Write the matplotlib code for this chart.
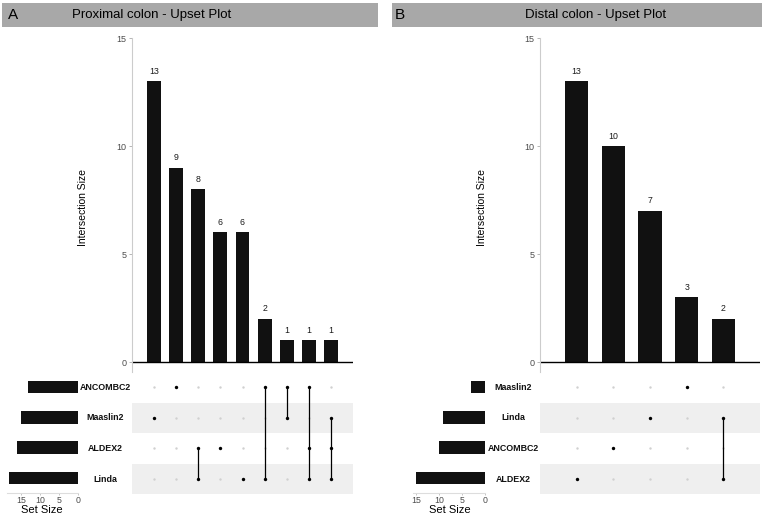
import matplotlib
matplotlib.use("Agg")
import matplotlib.pyplot as plt
from matplotlib.patches import Rectangle

plt.rcParams['font.family'] = ['Liberation Sans', 'DejaVu Sans']

# panel A - proximal colon
a_sets = ['ANCOMBC2', 'Maaslin2', 'ALDEX2', 'Linda']
a_set_sizes = [13, 15, 16, 18]
a_counts = [13, 9, 8, 6, 6, 2, 1, 1, 1]
a_members = [['Maaslin2'], ['ANCOMBC2'], ['ALDEX2', 'Linda'], ['ALDEX2'], ['Linda'],
             ['ANCOMBC2', 'Linda'], ['ANCOMBC2', 'Maaslin2'],
             ['ANCOMBC2', 'ALDEX2', 'Linda'], ['Maaslin2', 'ALDEX2', 'Linda']]

# panel B - distal colon
b_sets = ['Maaslin2', 'Linda', 'ANCOMBC2', 'ALDEX2']
b_set_sizes = [3, 9, 10, 15]
b_counts = [13, 10, 7, 3, 2]
b_members = [['ALDEX2'], ['ANCOMBC2'], ['Linda'], ['Maaslin2'], ['Linda', 'ALDEX2']]

W, H = 765, 516
fig = plt.figure(figsize=(W / 100, H / 100), dpi=100)


def ax_px(x0, y0, x1, y1):
    return fig.add_axes([x0 / W, 1 - y1 / H, (x1 - x0) / W, (y1 - y0) / H])


def strip(x0, x1, letter, lx, title, tx):
    fig.patches.append(Rectangle((x0 / W, 1 - 27 / H), (x1 - x0) / W, 24 / H,
                                 transform=fig.transFigure, facecolor='#a8a8a8',
                                 edgecolor='none'))
    fig.text(lx / W, 1 - 15 / H, letter, fontsize=11, va='center', ha='left')
    fig.text(tx / W, 1 - 15 / H, title, fontsize=9.5, va='center', ha='left')


def upset(sets, set_sizes, counts, members, bx0, bx1, sx0, sx1, smax, label_x, ylab_x, setlab_x):
    n = len(counts)
    cols = list(range(1, n + 1))

    # intersection bars
    ax = ax_px(bx0, 38, bx1, 372)
    ax.bar(cols, counts, width=0.63, color='#111111')
    for c, v in zip(cols, counts):
        ax.text(c, v + 0.25, str(v), ha='center', va='bottom', fontsize=6.3, color='#1a1a1a')
    ax.set_xlim(0, n + 1)
    ax.set_ylim(-0.46, 15)
    ax.axhline(0, color='black', lw=1, xmin=0)
    ax.set_yticks([0, 5, 10, 15])
    ax.tick_params(axis='y', labelsize=6.5, labelcolor='#4d4d4d', length=2, width=0.6,
                   color='#aaaaaa', pad=2)
    ax.set_xticks([])
    for s in ['top', 'right', 'bottom']:
        ax.spines[s].set_visible(False)
    ax.spines['left'].set_color('#cccccc')
    ax.spines['left'].set_linewidth(0.8)
    fig.text(ylab_x / W, 1 - 207 / H, 'Intersection Size', rotation=90, fontsize=7.5,
             ha='center', va='center')

    # matrix
    mx = ax_px(bx0, 372, bx1, 494)
    rows = list(range(len(sets)))
    for r in rows:
        if r % 2 == 1:
            mx.axhspan(r - 0.5, r + 0.5, color='#efefef', lw=0)
    for c, mem in zip(cols, members):
        idx = [sets.index(m) for m in mem]
        for r in rows:
            if r not in idx:
                mx.scatter(c, r, s=3, color='#d0d0d0', lw=0, zorder=2)
        if len(idx) > 1:
            mx.plot([c, c], [min(idx), max(idx)], color='black', lw=0.9, zorder=3)
        mx.scatter([c] * len(idx), idx, s=6, color='black', lw=0, zorder=4)
    mx.set_xlim(0, n + 1)
    mx.set_ylim(len(sets) - 0.5, -0.5)
    mx.axis('off')

    # set size bars
    sx = ax_px(sx0, 372, sx1, 493)
    sx.barh(rows, set_sizes, height=0.42, color='#111111')
    sx.set_xlim(smax, 0)
    sx.set_ylim(len(sets) - 0.5, -0.5)
    sx.set_xticks([15, 10, 5, 0])
    sx.set_yticks([])
    sx.tick_params(axis='x', labelsize=6.3, labelcolor='#4d4d4d', length=1.5, width=0.6,
                   color='#bbbbbb', pad=0.5)
    for s in ['top', 'right', 'left']:
        sx.spines[s].set_visible(False)
    sx.spines['bottom'].set_color('#dddddd')
    sx.spines['bottom'].set_linewidth(0.8)
    fig.text(setlab_x / W, 1 - 510 / H, 'Set Size', fontsize=8, ha='center', va='center')

    for r, name in zip(rows, sets):
        y = 387 + r * 30.7
        fig.text(label_x / W, 1 - y / H, name, fontsize=6.4, fontweight='bold',
                 ha='center', va='center', color='#111111')


strip(2, 378, 'A', 8, 'Proximal colon - Upset Plot', 72)
strip(392, 762, 'B', 395, 'Distal colon - Upset Plot', 525)

upset(a_sets, a_set_sizes, a_counts, a_members, 132, 353, 7, 78, 18.6, 105, 83, 42)
upset(b_sets, b_set_sizes, b_counts, b_members, 540, 760, 413, 485, 15.6, 513, 482, 450)

fig.savefig('out.png', dpi=100)
